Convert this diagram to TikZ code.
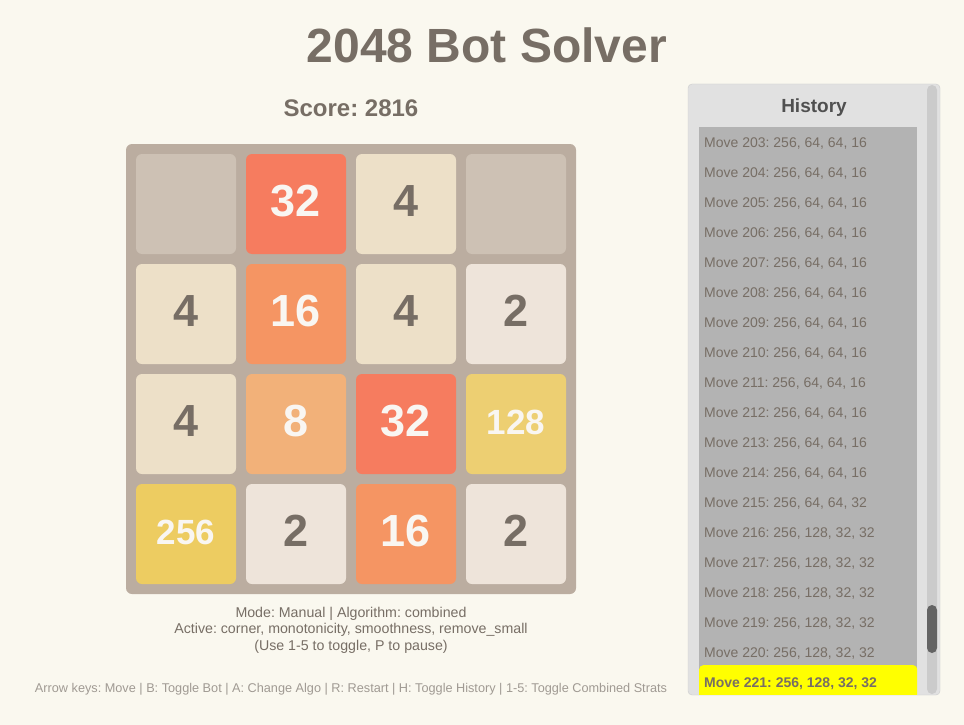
\documentclass[tikz,border=0pt]{standalone}
\usepackage{fontspec}
\setmainfont{Liberation Sans}
\frenchspacing
\definecolor{pagebg}{HTML}{FAF8EF}
\definecolor{board}{HTML}{BBADA0}
\definecolor{tempty}{HTML}{CDC1B4}
\definecolor{t2}{HTML}{EEE4DA}
\definecolor{t4}{HTML}{EDE0C8}
\definecolor{t8}{HTML}{F2B179}
\definecolor{t16}{HTML}{F59563}
\definecolor{t32}{HTML}{F67C5F}
\definecolor{t128}{HTML}{EDCF72}
\definecolor{t256}{HTML}{EDCC61}
\definecolor{dark}{HTML}{776E65}
\definecolor{light}{HTML}{F9F6F2}
\definecolor{hint}{HTML}{A09A93}
\definecolor{panelbg}{HTML}{E1E1E1}
\definecolor{panelline}{HTML}{CCCCCC}
\definecolor{listbg}{HTML}{B3B3B3}
\definecolor{track}{HTML}{CBCBCB}
\definecolor{thumb}{HTML}{646464}
\definecolor{histhead}{HTML}{505050}
\definecolor{currentbg}{RGB}{255,255,0}
\tikzset{
    tile/.style={rectangle, rounded corners=6pt, minimum size=100pt, inner sep=0pt,
        text height=24pt, text depth=0pt, font=\fontsize{45}{45}\selectfont\bfseries},
    widetile/.style={tile, text height=20pt, font=\fontsize{35}{35}\selectfont\bfseries},
    infoline/.style={anchor=base, inner sep=0pt, text=dark, font=\fontsize{14.2}{14.2}\selectfont},
    histitem/.style={anchor=base west, inner sep=0pt, text=dark, font=\fontsize{14}{14}\selectfont},
}
\begin{document}
\begin{tikzpicture}[x=1pt, y=-1pt]
    \fill[pagebg] (0,0) rectangle (964,725);
    \useasboundingbox (0,0) rectangle (964,725);

    \node[anchor=base, inner sep=0pt, text=dark, font=\fontsize{48}{48}\selectfont\bfseries] (title) at (487,63) {2048 Bot Solver};
    \node[anchor=base, inner sep=0pt, text=dark, font=\fontsize{24}{24}\selectfont\bfseries] (score) at (351,117) {Score: 2816};

    % board
    \node[fill=board, rounded corners=6pt, minimum size=450pt, inner sep=0pt] (board) at (351,369) {};
    \foreach \r/\c/\v/\s/\f/\t in {0/0//tile/tempty/dark, 0/1/32/tile/t32/light, 0/2/4/tile/t4/dark, 0/3//tile/tempty/dark,
        1/0/4/tile/t4/dark, 1/1/16/tile/t16/light, 1/2/4/tile/t4/dark, 1/3/2/tile/t2/dark,
        2/0/4/tile/t4/dark, 2/1/8/tile/t8/light, 2/2/32/tile/t32/light, 2/3/128/widetile/t128/light,
        3/0/256/widetile/t256/light, 3/1/2/tile/t2/dark, 3/2/16/tile/t16/light, 3/3/2/tile/t2/dark}
        \node[\s, fill=\f, text=\t] (t\r\c) at ({186+110*\c},{204+110*\r}) {\v};

    \node[infoline] (mode) at (351,617) {Mode: Manual | Algorithm: combined};
    \node[infoline] (active) at (351,633.5) {Active: corner, monotonicity, smoothness, remove\_small};
    \node[infoline] (usage) at (351,650) {(Use 1-5 to toggle, P to pause)};
    \node[infoline, text=hint, font=\fontsize{12.7}{12.7}\selectfont] (keys) at (351,692) {Arrow keys: Move | B: Toggle Bot | A: Change Algo | R: Restart | H: Toggle History | 1-5: Toggle Combined Strats};

    % history panel
    \draw[fill=panelbg, draw=panelline, rounded corners=4pt] (688,84) rectangle (940,695);
    \node[anchor=base, inner sep=0pt, text=histhead, font=\fontsize{19}{19}\selectfont\bfseries] (histtitle) at (814,112) {History};
    \begin{scope}
        \clip (699,127) rectangle (917,694);
        \fill[listbg] (699,127) rectangle (917,694);
        \foreach \n in {203,...,214}
            \node[histitem] (item\n) at (704,{147+30*(\n-203)}) {Move \n: 256, 64, 64, 16};
        \node[histitem] (item215) at (704,507) {Move 215: 256, 64, 64, 32};
        \foreach \n in {216,...,220}
            \node[histitem] (item\n) at (704,{147+30*(\n-203)}) {Move \n: 256, 128, 32, 32};
        \node[fill=currentbg, rounded corners=4pt, minimum width=218pt, minimum height=40pt, inner sep=0pt, anchor=north west] (current) at (699,665) {};
        \node[histitem, font=\fontsize{14}{14}\selectfont\bfseries] (item221) at (704,687) {Move 221: 256, 128, 32, 32};
    \end{scope}
    \fill[track, rounded corners=5pt] (927,85) rectangle (937,694);
    \fill[thumb, rounded corners=5pt] (927,605) rectangle (937,653);
\end{tikzpicture}
\end{document}
